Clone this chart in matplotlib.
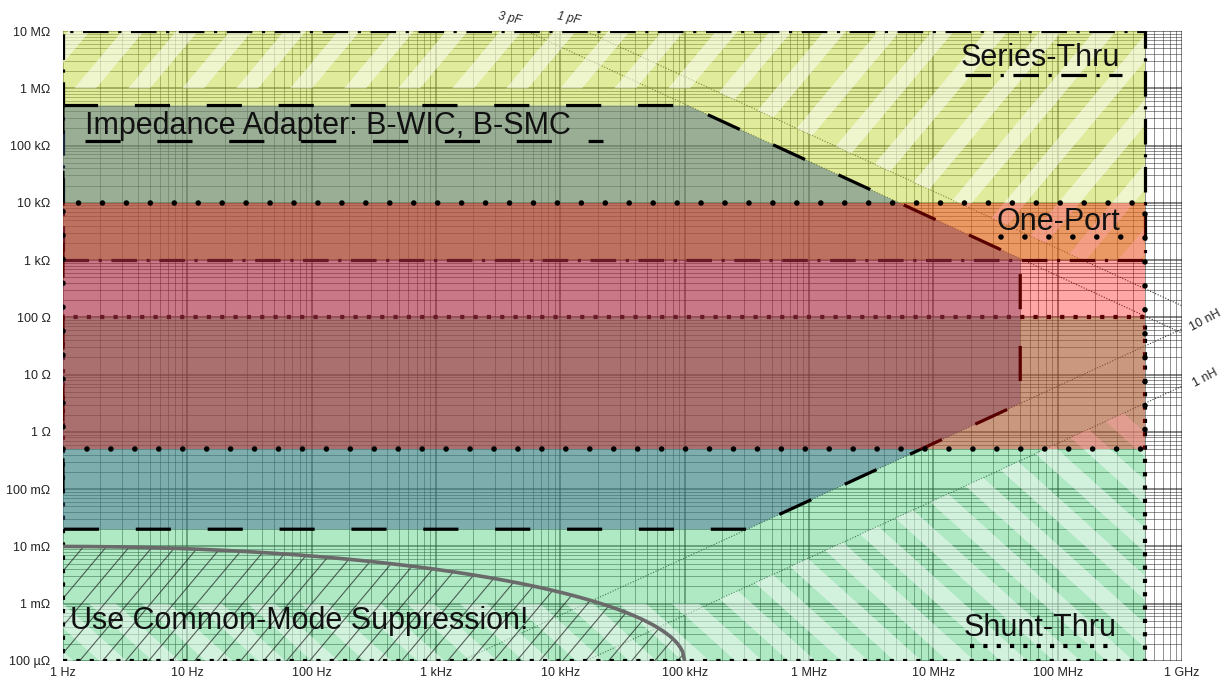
import numpy as np
import matplotlib
matplotlib.use("Agg")
import matplotlib.pyplot as plt
from matplotlib.patches import Polygon
from matplotlib.collections import LineCollection
from matplotlib.lines import Line2D
import matplotlib.transforms as mtransforms
from matplotlib.ticker import LogLocator, NullFormatter

plt.rcParams['font.family'] = ['Liberation Sans', 'DejaVu Sans']

# ---------------- data ----------------
freq_ticks = [1, 1e1, 1e2, 1e3, 1e4, 1e5, 1e6, 1e7, 1e8, 1e9]
freq_labels = ['1 Hz', '10 Hz', '100 Hz', '1 kHz', '10 kHz', '100 kHz',
               '1 MHz', '10 MHz', '100 MHz', '1 GHz']
imp_ticks = [1e-4, 1e-3, 1e-2, 1e-1, 1, 1e1, 1e2, 1e3, 1e4, 1e5, 1e6, 1e7]
imp_labels = ['100 µΩ', '1 mΩ', '10 mΩ', '100 mΩ', '1 Ω', '10 Ω', '100 Ω',
              '1 kΩ', '10 kΩ', '100 kΩ', '1 MΩ', '10 MΩ']

region_f = [1.0, 500e6]          # frequency span of all measurement regions
series_z = [1e3, 1e7]            # Series-Thru impedance span
oneport_z = [0.5, 1e4]           # One-Port impedance span
shunt_z = [1e-4, 1e2]            # Shunt-Thru impedance span
adapter_z = [0.02, 5e5]          # Impedance adapter flat limits
adapter_f_max = 50e6             # Impedance adapter upper frequency
adapter_cap = 3e-12              # capacitive limit of adapter
adapter_ind = 10e-9              # inductive limit of adapter
series_best_z = 1e6              # Series-Thru preferred above this ...
series_best_cap = 1e-12          # ... or above 1 pF reactance
shunt_best_z = 1e-3              # Shunt-Thru preferred below this ...
shunt_best_ind = 1e-9            # ... or below 1 nH reactance
cm_z_start = 1e-2                # common-mode curve at 1 Hz
cm_f_end = 1e5                   # common-mode curve reaches floor here
ref_caps = [3e-12, 1e-12]
ref_cap_labels = ['3 pF', '1 pF']
ref_inds = [10e-9, 1e-9]
ref_ind_labels = ['10 nH', '1 nH']

def zc(f, c):
    return 1.0 / (2 * np.pi * f * c)

def zl(f, l):
    return 2 * np.pi * f * l

# ---------------- figure ----------------
W_PX, H_PX = 1222, 677
fig = plt.figure(figsize=(W_PX / 100, H_PX / 100), dpi=100)
ax_l, ax_b, ax_w, ax_h = 63, 16, 1119, 630
ax = fig.add_axes([ax_l / W_PX, ax_b / H_PX, ax_w / W_PX, ax_h / H_PX])
ax.set_xscale('log')
ax.set_yscale('log')
ax.set_xlim(freq_ticks[0], freq_ticks[-1])
ax.set_ylim(imp_ticks[0], imp_ticks[-1])
ax.set_xticks(freq_ticks, freq_labels)
ax.set_yticks(imp_ticks, imp_labels)
ax.xaxis.set_minor_locator(LogLocator(base=10, subs=np.arange(2, 10), numticks=100))
ax.yaxis.set_minor_locator(LogLocator(base=10, subs=np.arange(2, 10), numticks=100))
ax.xaxis.set_minor_formatter(NullFormatter())
ax.yaxis.set_minor_formatter(NullFormatter())
ax.tick_params(which='both', length=0, labelsize=9, colors='#222222')
ax.tick_params(axis='x', pad=4)
ax.tick_params(axis='y', pad=9)
for s in ax.spines.values():
    s.set_visible(False)
ax.grid(which='major', color='#111111', lw=1.1, alpha=0.65, zorder=0.5)
ax.grid(which='minor', color='#222222', lw=0.7, alpha=0.5, zorder=0.5)
ax.set_axisbelow(True)

# transform: pixel units inside the axes
pix = mtransforms.Affine2D().scale(1 / ax_w, 1 / ax_h) + ax.transAxes

def stripes(clip, angle, period_h, lw, color, alpha, z):
    th = np.radians(angle)
    d = np.array([np.cos(th), np.sin(th)])
    n = np.array([-np.sin(th), np.cos(th)])
    L = np.hypot(ax_w, ax_h)
    c = np.array([ax_w / 2, ax_h / 2])
    step = period_h * abs(np.sin(th))
    segs = []
    for k in np.arange(-L, L, step):
        p = c + n * k
        segs.append([p - d * L, p + d * L])
    lc = LineCollection(segs, colors=color, linewidths=lw, alpha=alpha,
                        transform=pix, zorder=z, capstyle='butt')
    ax.add_collection(lc, autolim=False)
    lc.set_clip_path(clip)

def rect(zr):
    return [(region_f[0], zr[0]), (region_f[1], zr[0]),
            (region_f[1], zr[1]), (region_f[0], zr[1])]

ff = np.logspace(np.log10(region_f[0]), np.log10(region_f[1]), 600)

DASHDOT = (0, (8, 3, 1, 3))
ROUNDDOT = (0, (0.01, 4.3))
SQDOT = (0, (1, 2.2))
DASHED = (0, (11, 11.5))

# reference C / L lines (under the fills)
fr = np.logspace(0, 9, 400)
for c, lab in zip(ref_caps, ref_cap_labels):
    zz = zc(fr, c)
    m = zz <= imp_ticks[-1]
    ax.plot(fr[m], zz[m], ls=(0, (1, 1.5)), color='#333333', lw=0.8, zorder=0.8)
    ftop = 1.0 / (2 * np.pi * imp_ticks[-1] * c)
    ax.annotate(lab, (ftop, imp_ticks[-1]), xytext=(-12, 9), textcoords='offset points',
                fontsize=8.5, rotation=-12, ha='center', va='center', color='#222222',
                annotation_clip=False, style='italic')
for l, lab in zip(ref_inds, ref_ind_labels):
    zz = zl(fr, l)
    m = zz >= imp_ticks[0]
    ax.plot(fr[m], zz[m], ls=(0, (1, 1.5)), color='#333333', lw=0.8, zorder=0.8)
    ax.annotate(lab, (fr[-1], zz[-1]), xytext=(17, 6), textcoords='offset points',
                fontsize=9, rotation=28, ha='center', va='center', color='#222222',
                annotation_clip=False)

# ---- Series-Thru ----
ax.fill([p[0] for p in rect(series_z)], [p[1] for p in rect(series_z)],
        color=(0.76, 0.85, 0.22), alpha=0.5, lw=0, zorder=1)
sz = np.clip(np.minimum(series_best_z, zc(ff, series_best_cap)), series_z[0], None)
ser_best = Polygon(list(zip(ff, sz)) + [(region_f[1], series_z[1]), (region_f[0], series_z[1])],
                   closed=True, transform=ax.transData)
stripes(ser_best, 50, 54, 12, 'white', 0.5, 1.1)
ax.add_patch(Polygon(rect(series_z), closed=True, fill=False, ec='black', lw=2.3,
                     ls=DASHDOT, zorder=1.2))

# ---- Shunt-Thru ----
ax.fill([p[0] for p in rect(shunt_z)], [p[1] for p in rect(shunt_z)],
        color=(0.25, 0.80, 0.45), alpha=0.42, lw=0, zorder=2)
hz = np.clip(np.maximum(shunt_best_z, zl(ff, shunt_best_ind)), None, shunt_z[1])
sh_best = Polygon(list(zip(ff, hz)) + [(region_f[1], shunt_z[0]), (region_f[0], shunt_z[0])],
                  closed=True, transform=ax.transData)
stripes(sh_best, -42, 53, 13, 'white', 0.45, 2.1)
ax.add_patch(Polygon(rect(shunt_z), closed=True, fill=False, ec='black', lw=3,
                     ls=SQDOT, zorder=2.2))

# ---- Common-mode suppression ellipse ----
fe = np.logspace(0, np.log10(cm_f_end), 300)
ue = np.log10(fe) / np.log10(cm_f_end)
span = np.log10(cm_z_start) - np.log10(imp_ticks[0])
ze = 10 ** (np.log10(imp_ticks[0]) + span * np.sqrt(np.clip(1 - ue ** 2, 0, 1)))
cm_poly = Polygon(list(zip(fe, ze)) + [(fe[0], imp_ticks[0])], closed=True,
                  transform=ax.transData)
stripes(cm_poly, 50, 23, 0.8, '#222222', 0.7, 2.3)
ax.plot(fe, ze, color='#6a6a6a', lw=2.6, zorder=2.4, solid_capstyle='butt')

# ---- Impedance adapter ----
f_top = 1.0 / (2 * np.pi * adapter_z[1] * adapter_cap)
f_bot = adapter_z[0] / (2 * np.pi * adapter_ind)
ad_pts = [(region_f[0], adapter_z[1]), (f_top, adapter_z[1]),
          (adapter_f_max, zc(adapter_f_max, adapter_cap)),
          (adapter_f_max, zl(adapter_f_max, adapter_ind)),
          (f_bot, adapter_z[0]), (region_f[0], adapter_z[0])]
ax.fill([p[0] for p in ad_pts], [p[1] for p in ad_pts], color=(0.24, 0.37, 0.56),
        alpha=0.43, lw=0, zorder=3)
ax.add_patch(Polygon(ad_pts, closed=True, fill=False, ec='black', lw=2.3, ls=DASHED,
                     zorder=3.2))

# ---- One-Port ----
ax.fill([p[0] for p in rect(oneport_z)], [p[1] for p in rect(oneport_z)],
        color=(1.0, 0.0, 0.0), alpha=0.35, lw=0, zorder=4)
op_border = Polygon(rect(oneport_z), closed=True, fill=False, ec='black', lw=4,
                    ls=ROUNDDOT, zorder=4.2)
op_border.set_capstyle('round')
ax.add_patch(op_border)

# ---------------- labels ----------------
def label(x, y, txt, ha, ls, lw, x0, x1, yl, cap='butt'):
    ax.text(x, y, txt, transform=ax.transAxes, fontsize=22, ha=ha, va='center',
            color='#111111', zorder=6)
    ln = Line2D([x0, x1], [yl, yl], transform=ax.transAxes, color='black', lw=lw,
                ls=ls, zorder=6)
    ln.set_dash_capstyle(cap)
    ax.add_line(ln)

label(0.0197, 0.849, 'Impedance Adapter: B-WIC, B-SMC', 'left', DASHED, 2.3,
      0.0197, 0.483, 0.826)
label(0.9446, 0.957, 'Series-Thru', 'right', DASHDOT, 2.3, 0.806, 0.946, 0.930)
label(0.9446, 0.697, 'One-Port', 'right', ROUNDDOT, 4, 0.838, 0.946, 0.673, 'round')
label(0.9420, 0.053, 'Shunt-Thru', 'right', SQDOT, 3, 0.8105, 0.9375, 0.0238)
ax.text(0.0063, 0.063, 'Use Common-Mode Suppression!', transform=ax.transAxes,
        fontsize=22, ha='left', va='center', color='#111111', zorder=6)

fig.savefig('out.png', dpi=100)
